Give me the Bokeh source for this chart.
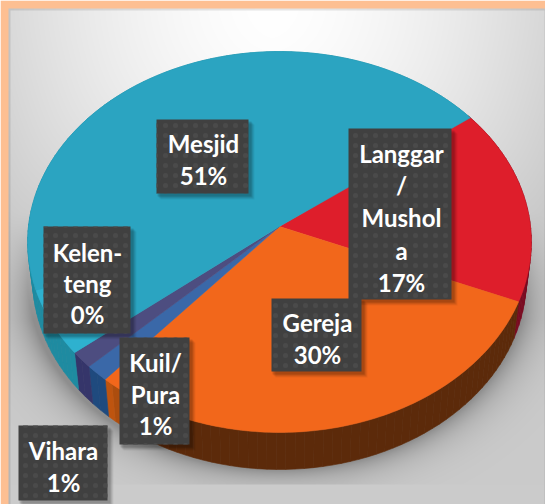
import numpy as np
from bokeh.embed import file_html
from bokeh.resources import INLINE
from bokeh.plotting import figure
from bokeh.models import Range1d
from bokeh.core.properties import value

# ---- data (clockwise from the Langgar slice) ----
categories = ["Langgar/Mushola", "Gereja", "Kuil/Pura", "Vihara", "Kelenteng", "Mesjid"]
shares = [16.8, 30.0, 1.4, 1.4, 0.0, 50.6]
label_lines = [["Langgar", "/", "Mushol", "a"], ["Gereja"], ["Kuil/", "Pura"], ["Vihara"], ["Kelen-", "teng"], ["Mesjid"]]
top_colors = ["#de1e2b", "#f2671b", "#3a68a8", "#4d4d80", "#2fb0cc", "#2ba4c1"]
wall_colors = ["#7a0a20", "#5c2a0a", "#1f4a7e", "#35356a", "#1e8ba1", "#1e8ba1"]

# ---- layout ----
FIRST_ANGLE = 52.2
CX, CY, RX, RY, PERSP = 279.0, 226.0, 251.0, 189.2, 0.0814
DEPTH, SHRINK = 37.0, 0.98
boxes = {  # left, top, right, bottom, text x, first line y, line step
    "Mesjid": (156, 119, 248, 193, 203, 143, 32),
    "Kelenteng": (43, 226, 130, 333, 87, 252, 31),
    "Langgar/Mushola": (348, 128, 451, 299, 401, 153, 32.2),
    "Gereja": (271, 298, 361, 371, 317, 322, 32),
    "Kuil/Pura": (119, 337, 189, 444, 155, 362, 31.5),
    "Vihara": (18, 425, 107, 500, 63, 450, 32),
}
box_order = ["Mesjid", "Langgar/Mushola", "Gereja", "Kelenteng", "Kuil/Pura", "Vihara"]


def rim(deg, radius=1.0):
    a = np.radians(deg)
    u, v = radius * np.sin(a), -radius * np.cos(a)
    w = 1 - PERSP * v
    return CX + RX * u / w, CY + RY * v / w


def base(deg):
    x, y = rim(deg)
    return CX + (x - CX) * SHRINK, y + DEPTH


def mix(c1, c2, t):
    a = [int(c1[i:i + 2], 16) for i in (1, 3, 5)]
    b = [int(c2[i:i + 2], 16) for i in (1, 3, 5)]
    return "#%02x%02x%02x" % tuple(int(round(p + (q - p) * t)) for p, q in zip(a, b))


W, H = 545, 504
p = figure(width=W, height=H, x_range=Range1d(0, W), y_range=Range1d(H, 0),
           toolbar_location=None, output_backend="svg", min_border=0,
           x_axis_type=None, y_axis_type=None, outline_line_color=None)
p.grid.visible = False

# ---- panel background with soft shadow ----
xx, yy = np.meshgrid(np.arange(W) + 0.5, np.arange(H) + 0.5)
bg = 255 - 33 * (np.abs(xx - 272) / 245) ** 1.6 - 50 * (np.clip(yy - 8, 0, None) / 490) ** 1.5
bg = np.clip(bg, 203, 255)
r = np.sqrt(((xx - 277) / 250) ** 2 + ((yy - 278) / 192) ** 2)
d = np.clip((r - 1) * 220, 0, None)
shadow = 0.30 * np.exp(-d / 16) * np.clip((yy - 200) / 120, 0.1, 1)
band = yy < 484
bg = bg * (1 - shadow * band)
bg[~band] = 203
edge = (xx < 10) | (yy < 10) | (xx > 544)
bg[edge] = bg[edge] * 0.9
v8 = bg.astype(np.uint8).astype(np.uint32)
rch, gch, bch = v8.copy(), v8.copy(), v8.copy()
frame = (xx < 8) | (yy < 8)
rch[frame], gch[frame], bch[frame] = 253, 191, 146
img = (255 << 24) | (bch << 16) | (gch << 8) | rch
p.image_rgba(image=[img.astype(np.uint32)], x=0, y=0, dw=W, dh=H)

# ---- slices ----
angle = FIRST_ANGLE
spans = []
for name, share, top, wall in zip(categories, shares, top_colors, wall_colors):
    sweep = share * 3.6
    spans.append((name, angle, angle + sweep, top, wall))
    angle += sweep

# walls
for name, a0, a1, top, wall in spans:
    if a1 <= a0:
        continue
    n = max(2, int((a1 - a0) / 2))
    edges = np.linspace(a0, a1, n + 1)
    for e0, e1 in zip(edges[:-1], edges[1:]):
        mid = (e0 + e1) / 2
        color = wall
        if name == "Gereja":
            color = mix("#c2560f", wall, np.clip((220 - mid) / 16, 0, 1) ** 0.8)
        x0, y0 = rim(e0)
        x1, y1 = rim(e1)
        x2, y2 = base(e1)
        x3, y3 = base(e0)
        p.patch([x0, x1, x2, x3], [y0, y1, y2, y3], fill_color=color, line_color=color, line_width=0.6)

# top faces
mesjid_start = None
for name, a0, a1, top, wall in spans:
    if name == "Mesjid":
        mesjid_start = a0
    if a1 <= a0:
        continue
    edges = np.linspace(a0, a1, max(3, int(a1 - a0) + 2))
    pts = [rim(e) for e in edges]
    xs = [CX] + [q[0] for q in pts]
    ys = [CY] + [q[1] for q in pts]
    p.patch(xs, ys, fill_color=top, line_color=top, line_width=0.5)

# lighter lit patch of the teal slice beside the thin slices
arc = np.linspace(mesjid_start, mesjid_start + 20, 12)
outer = [rim(e) for e in arc]
inner = [rim(e, 0.78) for e in arc[::-1]]
p.patch([q[0] for q in outer + inner], [q[1] for q in outer + inner],
        fill_color="#2fb4d2", fill_alpha=0.8, line_color=None)

# ---- data labels ----
font = value("Lato")
shares_by_name = dict(zip(categories, shares))
lines_by_name = dict(zip(categories, label_lines))
for name in box_order:
    l, t, rr, b, tx, ty, step = boxes[name]
    for off, alpha in ((6, 0.05), (5, 0.07), (4, 0.09), (3, 0.12)):
        p.quad(left=l + off - 2, right=rr + off, top=t + off - 1, bottom=b + off,
               fill_color="black", fill_alpha=alpha, line_color=None)
    p.quad(left=l, right=rr, top=t, bottom=b, fill_color="#404040", line_color=None,
           hatch_pattern="dot", hatch_color="#4a4a4a", hatch_scale=10, hatch_weight=1.5)
    text = lines_by_name[name] + ["%d%%" % round(shares_by_name[name])]
    p.text(x=[tx] * len(text), y=[ty + i * step for i in range(len(text))], text=text,
           text_font=font, text_font_style="bold", text_font_size="24px",
           text_color="#ffffff", text_align="center", text_baseline="middle")

open("out.html", "w").write(file_html(p, INLINE))
